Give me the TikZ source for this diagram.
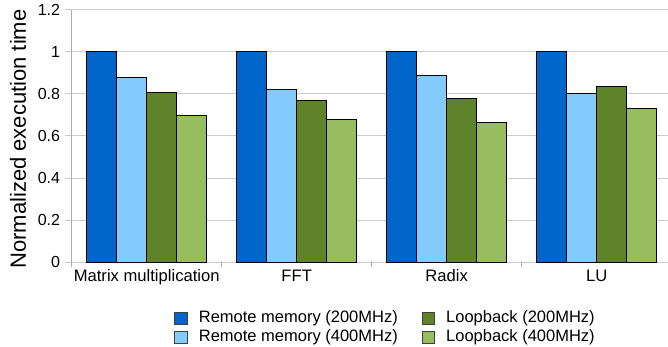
\documentclass[tikz,border=0pt]{standalone}
\usepackage{fontspec}
\setmainfont{Liberation Sans}
\usetikzlibrary{positioning}

\definecolor{remoteLow}{RGB}{0,102,204}
\definecolor{remoteHigh}{RGB}{131,202,255}
\definecolor{loopLow}{RGB}{94,131,42}
\definecolor{loopHigh}{RGB}{151,189,94}

\begin{document}
\begin{tikzpicture}[x=1pt,y=1pt,
  gridline/.style={draw=black!20,line width=1pt},
  axisline/.style={draw=black!32,line width=1pt},
  bar/.style={draw=black,line width=0.9pt},
  ticklabel/.style={anchor=east,inner sep=0pt,font=\fontsize{16}{19}\selectfont},
  catlabel/.style={anchor=base,inner sep=0pt,font=\fontsize{16.6}{19}\selectfont},
  legendkey/.style={draw=black!75,line width=0.8pt,minimum size=12.5pt,inner sep=0pt},
  legendtext/.style={inner sep=0pt,font=\fontsize{16.5}{19}\selectfont}]
\useasboundingbox (0,0) rectangle (668,347); % Page size of the chart
\begin{scope}[shift={(71.7,84.7)},y=210.6pt] % Plot area, one unit of y is 1.0
% Grid lines with their labels
\foreach \v in {0,0.2,0.4,0.6,0.8,1,1.2} {
  \draw[gridline] (-7,\v) -- (596.3,\v); % Horizontal grid line
  \node[ticklabel] at (-11.5,\v) {\v}; % Tick label
}
\draw[axisline] (0,0) -- (0,1.2); % Vertical axis
\foreach \c in {0,150,300,450}
  \draw[axisline] (\c,0) -- (\c,-0.024); % Category tick
% Bars of each benchmark
\foreach \c/\a/\b/\d/\e in {0/1/0.88/0.807/0.698, 150/1/0.82/0.767/0.68,
    300/1/0.888/0.779/0.663, 450/1/0.80/0.834/0.73} {
  \draw[bar,fill=remoteLow] (\c+15,0) rectangle (\c+45,\a); % Remote memory 200MHz
  \draw[bar,fill=remoteHigh] (\c+45,0) rectangle (\c+75,\b); % Remote memory 400MHz
  \draw[bar,fill=loopLow] (\c+75,0) rectangle (\c+105,\d); % Loopback 200MHz
  \draw[bar,fill=loopHigh] (\c+105,0) rectangle (\c+135,\e); % Loopback 400MHz
}
% Category labels
\foreach \c/\n in {75/Matrix multiplication, 225/FFT, 375/Radix, 525/LU}
  \node[catlabel] at (\c,-0.091) {\n};
\end{scope}
\node[rotate=90,font=\fontsize{22}{26}\selectfont] (ytitle) at (18,208) {Normalized execution time}; % Axis title
% Legend
\node[legendkey,fill=remoteLow] (keyA) at (181,28.5) {}; % First column
\node[legendtext,right=11pt of keyA] (textA) {Remote memory (200MHz)};
\node[legendkey,fill=remoteHigh] (keyB) at (181,9.5) {};
\node[legendtext,right=11pt of keyB] (textB) {Remote memory (400MHz)};
\node[legendkey,fill=loopLow] (keyC) at (428.3,28.5) {}; % Second column
\node[legendtext,right=11pt of keyC] (textC) {Loopback (200MHz)};
\node[legendkey,fill=loopHigh] (keyD) at (428.3,9.5) {};
\node[legendtext,right=11pt of keyD] (textD) {Loopback (400MHz)};
\end{tikzpicture}
\end{document}
